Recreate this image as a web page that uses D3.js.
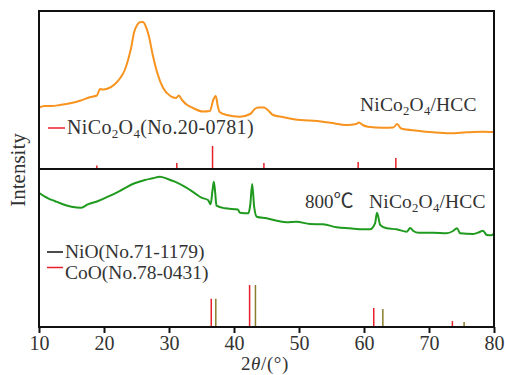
<!DOCTYPE html>
<html><head><meta charset="utf-8">
<script src="https://cdn.jsdelivr.net/npm/d3@7"></script>
<style>body{margin:0;background:#fff}svg{display:block}text{font-family:"Liberation Serif","Times New Roman",serif;fill:#333}</style>
</head><body><svg id="c" width="505" height="375"></svg>
<script>
// ---- data ----
const xTicks = [10, 20, 30, 40, 50, 60, 70, 80];
// NiCo2O4/HCC pattern (2θ, intensity a.u.)
const orangeTheta = [10.0,10.9,12.0,13.2,14.8,16.3,17.8,18.9,19.4,19.8,20.6,21.7,22.5,23.2,23.7,24.2,24.6,25.1,25.5,26.0,26.4,26.9,27.5,28.2,29.1,30.2,31.1,31.5,32.0,32.8,33.7,35.2,36.3,36.8,37.2,37.5,37.8,38.9,40.9,42.5,43.2,43.7,44.6,45.2,46.0,47.5,50.2,52.8,54.8,57.4,58.8,59.2,59.8,60.6,62.9,64.5,65.1,65.7,68.2,70.6,73.2,75.8,78.3,80.0];
const orangeInt = [61.5,63,63,64,65.7,68.3,71.7,73.5,80,79.5,80.5,85,91,99,109,122,136,144,146.7,147,143,133,114,96,81,73,71,73.5,69,64,61,57.5,58,69,73,63,57,54,52.3,55,60,61.5,61.5,59,54,52,49,48,46.3,44,45,46.5,44,42.3,41.3,41.5,45,40.5,38.3,36.7,35.7,36.7,37.3,37];
// 800℃ NiCo2O4/HCC pattern
const greenTheta = [10.1,10.9,11.4,12.4,14.0,15.0,16.5,17.5,19.1,20.6,22.7,24.7,26.3,27.5,28.6,29.8,30.9,32.4,34.0,35.0,36.0,36.4,36.7,36.9,37.1,37.3,38.6,40.6,40.9,42.2,42.5,42.8,43.1,43.5,45.0,46.6,48.1,49.6,51.7,53.7,55.8,57.8,59.9,60.9,61.7,62.0,62.5,63.5,65.0,66.6,67.1,67.6,68.4,70.7,72.7,73.7,74.3,74.8,76.8,77.8,78.3,78.9,79.6,80.0];
const greenInt = [133.7,130.3,128.7,126,122,120.3,119.3,122.7,126,130.3,137,143.7,147,148.7,150.3,148,145.3,140.3,133.7,129.3,127,122.7,137,145.3,135,121.3,118.7,117.5,114.3,113.7,122,143,120.3,110.3,108.7,106.3,104.7,105.3,103,102.7,99.7,98.7,97.7,97.7,103.7,114.3,102,98.7,97.7,95.3,99,96,94.3,94.3,93.7,96,98.7,93.7,93,95,96.3,92,91.7,93.5];
// reference patterns (2θ, relative intensity %)
const ncoTheta = [18.9, 31.2, 36.7, 44.6, 59.1, 64.9];
const ncoRel = [15, 26, 100, 26, 30, 48];
const nioTheta = [37.2, 43.3, 62.9, 75.4];
const nioRel = [67, 100, 43, 12];
const cooTheta = [36.5, 42.4, 61.5, 73.6];
const cooRel = [67, 100, 45, 14];
const legendTop = ["NiCo", ["2"], "O", ["4"], "(No.20-0781)"];
const legendNiO = "NiO(No.71-1179)";
const legendCoO = "CoO(No.78-0431)";
const labelTop = ["NiCo", ["2"], "O", ["4"], "/HCC"];
const labelBottomPrefix = "800";
const labelBottomUnit = "℃";
const labelBottom = ["NiCo", ["2"], "O", ["4"], "/HCC"];

// ---- drawing ----
const svg = d3.select("#c");
const L = 39, R = 494, T = 11, M = 169, B = 327;
const x = d3.scaleLinear().domain([10, 80]).range([L, R]);
const yTop = d3.scaleLinear().domain([0, 158]).range([M, T]);
const yBot = d3.scaleLinear().domain([0, 158]).range([B, M]);
const sTop = d3.scaleLinear().domain([0, 100]).range([M, M - 23]);
const sBot = d3.scaleLinear().domain([0, 100]).range([B, B - 42]);

const cOrange = "#f7931e", cGreen = "#1f9a1f", cRed = "#e8202a", cOlive = "#8a7e2c";

function line(ys) {
  return d3.line().x(d => x(d[0])).y(d => ys(d[1])).curve(d3.curveMonotoneX);
}
svg.append("path").datum(d3.zip(orangeTheta, orangeInt))
  .attr("d", line(yTop)).attr("fill", "none").attr("stroke", cOrange).attr("stroke-width", 2);
svg.append("path").datum(d3.zip(greenTheta, greenInt))
  .attr("d", line(yBot)).attr("fill", "none").attr("stroke", cGreen).attr("stroke-width", 2);

function sticks(th, rel, s, col) {
  svg.append("g").selectAll("line").data(d3.zip(th, rel)).join("line")
    .attr("x1", d => x(d[0])).attr("x2", d => x(d[0]))
    .attr("y1", s(0)).attr("y2", d => s(d[1]))
    .attr("stroke", col).attr("stroke-width", 1.5);
}
sticks(ncoTheta, ncoRel, sTop, cRed);
sticks(cooTheta, cooRel, sBot, cRed);
sticks(nioTheta, nioRel, sBot, cOlive);

// frame
svg.append("rect").attr("x", L).attr("y", T).attr("width", R - L).attr("height", B - T)
  .attr("fill", "none").attr("stroke", "#111").attr("stroke-width", 2);
svg.append("line").attr("x1", L).attr("x2", R).attr("y1", M).attr("y2", M)
  .attr("stroke", "#111").attr("stroke-width", 2);

// axis
const ax = svg.append("g").attr("transform", `translate(0,${B})`)
  .call(d3.axisBottom(x).tickValues(xTicks).tickSize(6).tickPadding(3).tickFormat(d3.format("d")));
ax.select(".domain").remove();
ax.selectAll(".tick line").attr("stroke", "#111").attr("stroke-width", 2);
ax.selectAll(".tick text").attr("font-size", 20).attr("fill", "#333")
  .attr("font-family", "Liberation Serif, serif").attr("dy", "0.7em");

// rich text helper
function rich(xp, yp, parts, size, ls) {
  const t = svg.append("text").attr("x", xp).attr("y", yp).attr("font-size", size)
    .attr("letter-spacing", ls || 0);
  let shifted = false;
  parts.forEach(p => {
    if (Array.isArray(p)) {
      t.append("tspan").text(p[0]).attr("font-size", size * 0.65).attr("dy", shifted ? 0 : 4);
      shifted = true;
    } else {
      t.append("tspan").text(p).attr("dy", shifted ? -4 : 0);
      shifted = false;
    }
  });
  return t;
}

// legends
svg.append("line").attr("x1", 48).attr("x2", 65).attr("y1", 128).attr("y2", 128).attr("stroke", cRed).attr("stroke-width", 1.5);
rich(67, 134, legendTop, 20, 0.35);
svg.append("line").attr("x1", 47).attr("x2", 63).attr("y1", 252).attr("y2", 252).attr("stroke", "#111").attr("stroke-width", 1.5);
svg.append("text").attr("x", 65).attr("y", 258).attr("font-size", 19.5).text(legendNiO);
svg.append("line").attr("x1", 47).attr("x2", 63).attr("y1", 267.5).attr("y2", 267.5).attr("stroke", cRed).attr("stroke-width", 1.5);
svg.append("text").attr("x", 65).attr("y", 278.5).attr("font-size", 19.5).text(legendCoO);

rich(360, 111, labelTop, 19.5, 0.2);
const bt = svg.append("text").attr("x", 305).attr("y", 208).attr("font-size", 19);
bt.append("tspan").text(labelBottomPrefix);
bt.append("tspan").text(labelBottomUnit).attr("font-family", "Noto Sans CJK SC, sans-serif").attr("font-size", 20);
rich(369, 208, labelBottom, 19.5, 0.2);

// axis titles
const xt = svg.append("text").attr("x", 265).attr("y", 370).attr("text-anchor", "middle").attr("font-size", 19)
  .attr("letter-spacing", 0.6);
xt.append("tspan").text("2");
xt.append("tspan").text("θ").attr("font-style", "italic");
xt.append("tspan").text("/(°)");
svg.append("text").attr("transform", "translate(25,170) rotate(-90)").attr("text-anchor", "middle")
  .attr("font-size", 21).text("Intensity");
</script></body></html>
